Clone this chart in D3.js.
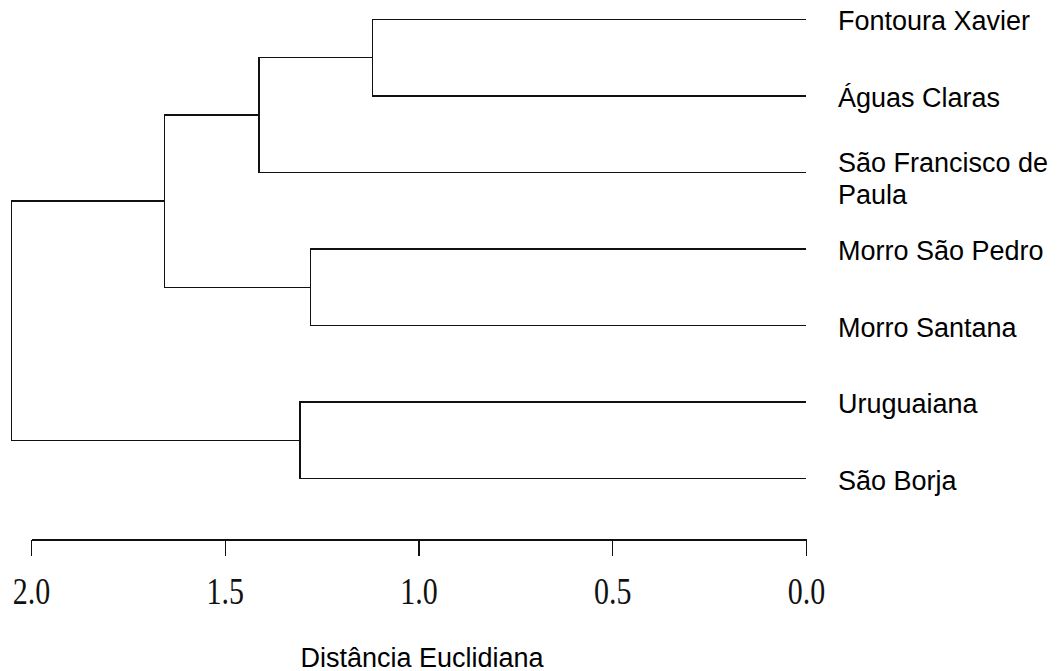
<!DOCTYPE html>
<html>
<head>
<meta charset="utf-8">
<script src="https://cdn.jsdelivr.net/npm/d3@7"></script>
<style>
  html, body { margin: 0; padding: 0; background: #fff; }
  svg { display: block; }
  .link { fill: none; stroke: #111; stroke-width: 1.4; shape-rendering: crispEdges; }
  .leaf-label { font-family: "Liberation Sans", Arial, sans-serif; font-size: 27px; fill: #000; }
  .axis-title { font-family: "Liberation Sans", Arial, sans-serif; font-size: 27px; fill: #000; }
  .x-axis text { font-family: "Liberation Serif", "Times New Roman", serif; font-size: 30px; fill: #111; }
  .x-axis path, .x-axis line { stroke: #111; stroke-width: 1.4; shape-rendering: crispEdges; }
</style>
</head>
<body>
<svg id="chart" width="1059" height="671"></svg>
<script>
// Leaves, top to bottom
const leaves = [
  "Fontoura Xavier",
  "Águas Claras",
  "São Francisco de Paula",
  "Morro São Pedro",
  "Morro Santana",
  "Uruguaiana",
  "São Borja"
];

// Merge steps: negative = leaf index (1-based), positive = earlier merge (1-based)
const merges = [
  [-1, -2],
  [1, -3],
  [-4, -5],
  [2, 3],
  [-6, -7],
  [4, 5]
];

// Euclidean distance at which each merge happens
const heights = [1.119, 1.412, 1.278, 1.656, 1.306, 2.050];

const tickValues = [2.0, 1.5, 1.0, 0.5, 0.0];
const axisTitle = "Distância Euclidiana";

const svg = d3.select("#chart");

const x = d3.scaleLinear().domain([2, 0]).range([31, 806]);
const y = d3.scalePoint().domain(leaves).range([19.3, 478.7]);

// Position of every node
const leafPos = leaves.map(l => ({ x: x(0), y: y(l) }));
const nodePos = [];
function pos(ref) {
  return ref < 0 ? leafPos[-ref - 1] : nodePos[ref - 1];
}
merges.forEach((m, i) => {
  const a = pos(m[0]), b = pos(m[1]);
  nodePos.push({ x: x(heights[i]), y: (a.y + b.y) / 2 });
});

// Elbow links: horizontal from each child to the merge height, then a vertical joining them
const g = svg.append("g");
merges.forEach((m, i) => {
  const n = nodePos[i];
  const a = pos(m[0]), b = pos(m[1]);
  const path = d3.path();
  path.moveTo(a.x, a.y);
  path.lineTo(n.x, a.y);
  path.lineTo(n.x, b.y);
  path.lineTo(b.x, b.y);
  g.append("path").attr("class", "link").attr("d", path.toString());
});

// Leaf labels, wrapped to the available width
const labelX = 838;
const maxW = 1059 - labelX - 2;
const lineStep = 31.5;
const labels = svg.append("g").selectAll("text")
  .data(leaves)
  .join("text")
  .attr("class", "leaf-label")
  .attr("x", labelX);

labels.each(function (d) {
  const t = d3.select(this);
  const words = d.split(" ");
  let line = [];
  let tspan = t.append("tspan").attr("x", labelX);
  let lineNo = 0;
  words.forEach(w => {
    line.push(w);
    tspan.text(line.join(" "));
    if (tspan.node().getComputedTextLength() > maxW && line.length > 1) {
      line.pop();
      tspan.text(line.join(" "));
      line = [w];
      lineNo++;
      tspan = t.append("tspan").attr("x", labelX).attr("dy", lineStep).text(w);
    }
  });
  // keep single labels beside their branch, lift wrapped ones so the block sits around it
  t.attr("y", y(d) + 11 - lineNo * 11);
});

// Distance axis
const axis = d3.axisBottom(x)
  .tickValues(tickValues)
  .tickFormat(d3.format(".1f"))
  .tickSizeInner(16)
  .tickSizeOuter(0);

const axisG = svg.append("g")
  .attr("class", "x-axis")
  .attr("transform", "translate(0,539.5)")
  .call(axis);
// tall serif digits sitting on a common baseline
axisG.selectAll("text")
  .attr("y", 0)
  .attr("dy", null)
  .attr("transform", "translate(0,64.5) scale(1,1.24)");

svg.append("text")
  .attr("class", "axis-title")
  .attr("x", 422)
  .attr("y", 666.5)
  .attr("text-anchor", "middle")
  .text(axisTitle);
</script>
</body>
</html>
